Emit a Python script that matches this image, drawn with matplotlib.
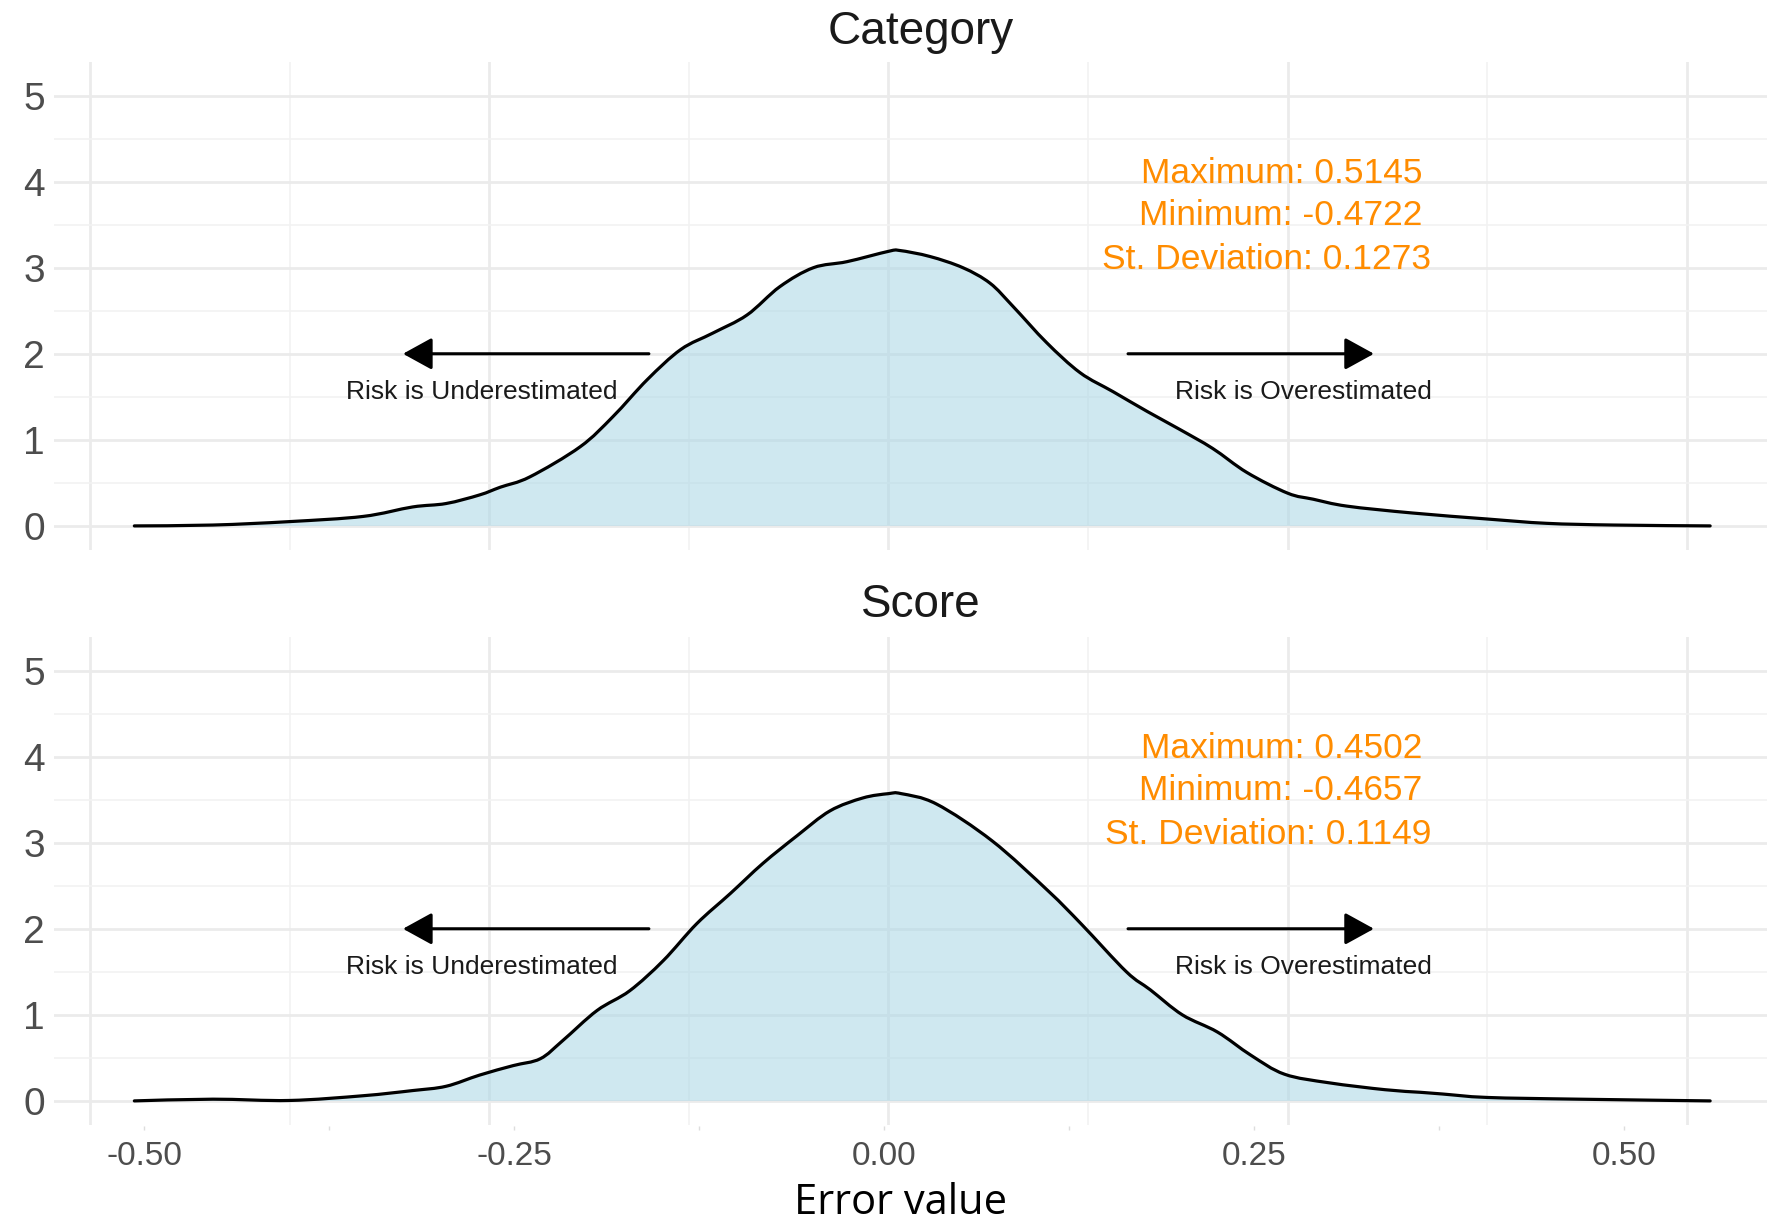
import numpy as np
import matplotlib
matplotlib.use("Agg")
import matplotlib.pyplot as plt
from matplotlib.path import Path
from matplotlib.patches import PathPatch

plt.rcParams['font.family'] = ['Liberation Sans', 'DejaVu Sans']

# density curves (error value, density) for each facet
panel_titles = ['Category', 'Score']

cat_x = [-0.4722, -0.423, -0.375, -0.329, -0.298, -0.277, -0.256, -0.243, -0.2245,
         -0.193, -0.1725, -0.151, -0.130, -0.110, -0.0886, -0.068, -0.047, -0.026,
         0.0, 0.007, 0.026, 0.0466, 0.0636, 0.078, 0.099, 0.120, 0.1406, 0.162,
         0.1825, 0.203, 0.2245, 0.25, 0.266, 0.287, 0.328, 0.375, 0.412, 0.454, 0.5145]
cat_density = [0.0, 0.01, 0.05, 0.11, 0.22, 0.26, 0.36, 0.45, 0.57,
               0.92, 1.27, 1.70, 2.05, 2.24, 2.45, 2.78, 3.0, 3.07,
               3.19, 3.20, 3.13, 3.0, 2.82, 2.55, 2.13, 1.78, 1.56, 1.33,
               1.12, 0.90, 0.62, 0.38, 0.31, 0.23, 0.15, 0.08, 0.03, 0.01, 0.0]

score_x = [-0.4722, -0.423, -0.375, -0.329, -0.298, -0.277, -0.256, -0.235, -0.218,
           -0.204, -0.1825, -0.162, -0.141, -0.120, -0.099, -0.0786, -0.0573, -0.0366,
           -0.016, 0.0, 0.008, 0.03, 0.065, 0.10, 0.121, 0.149, 0.164, 0.184, 0.206,
           0.227, 0.248, 0.276, 0.311, 0.333, 0.347, 0.375, 0.432, 0.5145]
score_density = [0.0, 0.02, 0.005, 0.06, 0.12, 0.17, 0.30, 0.41, 0.49,
                 0.70, 1.05, 1.28, 1.63, 2.06, 2.41, 2.76, 3.08, 3.37,
                 3.52, 3.57, 3.57, 3.45, 3.02, 2.44, 2.05, 1.50, 1.29, 1.00, 0.80,
                 0.53, 0.31, 0.21, 0.13, 0.10, 0.08, 0.04, 0.02, 0.0]

stat_max = [0.5145, 0.4502]
stat_min = [-0.4722, -0.4657]
stat_sd = [0.1273, 0.1149]

x_breaks = [-0.50, -0.25, 0.00, 0.25, 0.50]
x_minor = [-0.375, -0.125, 0.125, 0.375]
x_labels = ['-0.50', '-0.25', '0.00', '0.25', '0.50']
y_breaks = [0, 1, 2, 3, 4, 5]
y_minor = [0.5, 1.5, 2.5, 3.5, 4.5]

W, H = 1767, 1221
fig = plt.figure(figsize=(W / 100, H / 100), dpi=100)


def rect(left, top, right, bottom):
    return [left / W, 1 - bottom / H, (right - left) / W, (bottom - top) / H]


def curve_path(xs, ys, closed=False):
    # Catmull-Rom spline through the points, as cubic bezier segments
    pts = np.column_stack([xs, ys])
    n = len(pts)
    verts = [pts[0]]
    codes = [Path.MOVETO]
    for i in range(n - 1):
        p0 = pts[i - 1] if i > 0 else pts[i]
        p1, p2 = pts[i], pts[i + 1]
        p3 = pts[i + 2] if i + 2 < n else pts[i + 1]
        verts += [p1 + (p2 - p0) / 6, p2 - (p3 - p1) / 6, p2]
        codes += [Path.CURVE4] * 3
    if closed:
        verts += [(xs[-1], 0), (xs[0], 0), pts[0]]
        codes += [Path.LINETO, Path.LINETO, Path.CLOSEPOLY]
    return Path(verts, codes)


def draw_panel(ax, xs, ys, vmax, vmin, sd):
    ax.set_xlim(-0.5225, 0.5501)
    ax.set_ylim(-0.28, 5.39)
    ax.set_xticks(x_breaks)
    ax.set_xticks(x_minor, minor=True)
    ax.set_yticks(y_breaks)
    ax.set_yticks(y_minor, minor=True)
    ax.set_axisbelow(True)
    ax.grid(which='major', color='#EBEBEB', lw=2.0)
    ax.grid(which='minor', color='#F2F2F2', lw=1.2)
    ax.tick_params(which='both', length=0)
    ax.tick_params(axis='x', labelbottom=False)
    ax.tick_params(axis='y', labelsize=28, labelcolor='#4D4D4D', pad=6.5)
    for s in ax.spines.values():
        s.set_visible(False)

    ax.add_patch(PathPatch(curve_path(xs, ys, closed=True), facecolor='lightblue',
                           alpha=0.58, lw=0))
    ax.add_patch(PathPatch(curve_path(xs, ys), fill=False, edgecolor='black',
                           lw=2.3, joinstyle='round', capstyle='round'))

    arrow = dict(arrowstyle='-|>,head_length=1.0,head_width=0.55', color='black',
                 lw=2.2, mutation_scale=18, shrinkA=0, shrinkB=0)
    ax.annotate('', xy=(-0.304, 2), xytext=(-0.15, 2), arrowprops=arrow)
    ax.annotate('', xy=(0.304, 2), xytext=(0.15, 2), arrowprops=arrow)
    ax.text(-0.2545, 1.56, 'Risk is Underestimated', ha='center', va='center',
            fontsize=19, color='#1A1A1A')
    ax.text(0.260, 1.56, 'Risk is Overestimated', ha='center', va='center',
            fontsize=19, color='#1A1A1A')

    orange = '#FF8C00'
    ax.text(0.3345, 4.10, f'Maximum: {vmax:.4f}', ha='right', va='center',
            fontsize=25.5, color=orange)
    ax.text(0.3345, 3.61, f'Minimum: {vmin:.4f}', ha='right', va='center',
            fontsize=25.5, color=orange)
    ax.text(0.3400, 3.10, f'St. Deviation: {sd:.4f}', ha='right', va='center',
            fontsize=25.5, color=orange)


ax_top = fig.add_axes(rect(54, 62, 1767, 550))
ax_bot = fig.add_axes(rect(54, 637, 1767, 1125))
draw_panel(ax_top, cat_x, cat_density, stat_max[0], stat_min[0], stat_sd[0])
draw_panel(ax_bot, score_x, score_density, stat_max[1], stat_min[1], stat_sd[1])

fig.text(921 / W, 1 - 44 / H, panel_titles[0], ha='center', va='baseline',
         fontsize=33, color='#1A1A1A')
fig.text(921 / W, 1 - 617 / H, panel_titles[1], ha='center', va='baseline',
         fontsize=33, color='#1A1A1A')

# shared x scale below the lower facet
ax_x = fig.add_axes(rect(54, 1125, 1767, 1126))
ax_x.set_xlim(-0.5608, 0.5966)
ax_x.set_ylim(0, 1)
ax_x.patch.set_visible(False)
for s in ax_x.spines.values():
    s.set_visible(False)
ax_x.set_yticks([])
ax_x.set_xticks(x_breaks)
ax_x.set_xticklabels(x_labels)
ax_x.set_xticks(x_minor, minor=True)
ax_x.tick_params(which='both', direction='out', length=3, width=1, color='#DDDDDD')
ax_x.tick_params(axis='x', labelsize=24, labelcolor='#4D4D4D', pad=8)

fig.text(900 / W, 1 - 1203 / H, 'Error value', ha='center', va='center',
         fontsize=30, color='black', family=['Open Sans', 'DejaVu Sans'])

fig.savefig('out.png', dpi=100)
